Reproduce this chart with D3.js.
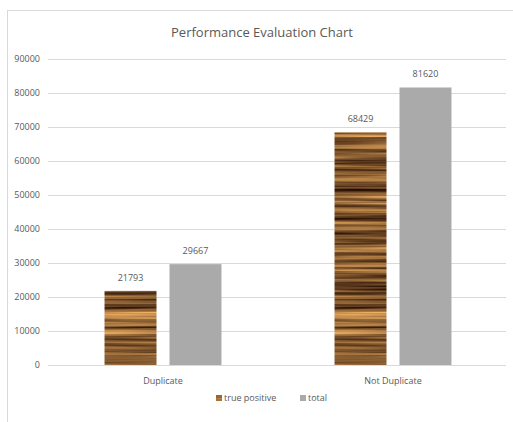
<!DOCTYPE html>
<html>
<head>
<meta charset="utf-8">
<script src="https://cdn.jsdelivr.net/npm/d3@7"></script>
<style>
  html, body { margin: 0; padding: 0; background: #fff; }
  svg { display: block; }
  text { font-family: "Open Sans", "Liberation Sans", sans-serif; fill: #595959; }
</style>
</head>
<body>
<svg id="chart" width="513" height="422"></svg>
<script>
// Chart data
const categories = ["Duplicate", "Not Duplicate"];
const seriesNames = ["true positive", "total"];
const truePositive = [21793, 68429];
const total = [29667, 81620];
const yTicks = [0, 10000, 20000, 30000, 40000, 50000, 60000, 70000, 80000, 90000];
const chartTitle = "Performance Evaluation Chart";

const svg = d3.select("#chart");
const margin = { left: 48, right: 5, top: 59, bottom: 57 };
const W = 513, H = 422;

// Wood-grain fill for the "true positive" series
const defs = svg.append("defs");
const wood = defs.append("filter").attr("id", "wood")
  .attr("x", 0).attr("y", 0).attr("width", 1).attr("height", 1)
  .attr("color-interpolation-filters", "sRGB");
wood.append("feTurbulence").attr("type", "fractalNoise")
  .attr("baseFrequency", "0.005 0.28").attr("numOctaves", 3).attr("seed", 11).attr("result", "noise");
wood.append("feColorMatrix").attr("in", "noise").attr("type", "matrix")
  .attr("values", [
    "1.05 0 0 0 0.02",
    "0.85 0 0 0 -0.05",
    "0.5 0 0 0 -0.05",
    "0 0 0 0 1"
  ].join(" ")).attr("result", "tint");
wood.append("feComposite").attr("in", "tint").attr("in2", "SourceGraphic").attr("operator", "in");

// Chart area border
svg.append("rect")
  .attr("x", 7.5).attr("y", 10.5).attr("width", 510).attr("height", 420)
  .attr("fill", "none").attr("stroke", "#d9d9d9");

const x0 = d3.scaleBand().domain(categories)
  .range([margin.left, W - margin.right]).paddingInner(0).paddingOuter(0);
const x1 = d3.scaleBand().domain(seriesNames)
  .range([0, x0.bandwidth()]).paddingInner(0.2).paddingOuter(0.87);
const y = d3.scaleLinear().domain([0, 90000]).range([H - margin.bottom, margin.top]);

// Gridlines and y labels
const yAxis = svg.append("g").attr("transform", `translate(${margin.left},0)`)
  .call(d3.axisLeft(y).tickValues(yTicks).tickSize(-(W - margin.left - margin.right - 2)).tickPadding(8).tickFormat(d3.format("d")));
yAxis.select(".domain").remove();
yAxis.selectAll(".tick line").attr("stroke", "#d9d9d9");
yAxis.selectAll(".tick text").attr("font-size", 9).style("fill", "#595959");

// Bars
const rows = categories.map((c, i) => ({ cat: c, values: [truePositive[i], total[i]] }));
const groups = svg.append("g").selectAll("g").data(rows).join("g")
  .attr("transform", d => `translate(${x0(d.cat)},0)`);
groups.selectAll("rect").data(d => d.values.map((v, j) => ({ key: seriesNames[j], v })))
  .join("rect")
  .attr("x", d => x1(d.key))
  .attr("width", x1.bandwidth())
  .attr("y", d => y(d.v))
  .attr("height", d => y(0) - y(d.v))
  .attr("fill", d => d.key === "total" ? "#aaaaaa" : "#8a5a2c")
  .attr("filter", d => d.key === "total" ? null : "url(#wood)");
groups.selectAll("text.val").data(d => d.values.map((v, j) => ({ key: seriesNames[j], v })))
  .join("text").attr("class", "val")
  .attr("x", d => x1(d.key) + x1.bandwidth() / 2)
  .attr("y", d => y(d.v) - 10)
  .attr("text-anchor", "middle").attr("font-size", 9)
  .text(d => d.v);

// Category labels
svg.append("g").selectAll("text").data(categories).join("text")
  .attr("x", d => x0(d) + x0.bandwidth() / 2)
  .attr("y", y(0) + 19)
  .attr("text-anchor", "middle").attr("font-size", 9)
  .text(d => d);

// Title
svg.append("text").attr("x", 262).attr("y", 37)
  .attr("text-anchor", "middle").attr("font-size", 13)
  .text(chartTitle);

// Legend
const legend = svg.append("g");
const legendX = [216, 300];
seriesNames.forEach((s, i) => {
  const g = legend.append("g").attr("transform", `translate(${legendX[i]},398)`);
  g.append("rect").attr("x", 0).attr("y", -3).attr("width", 6).attr("height", 6)
    .attr("fill", i === 0 ? "#8a5a2c" : "#aaaaaa")
    .attr("filter", i === 0 ? "url(#wood)" : null);
  g.append("text").attr("x", 8).attr("y", 3).attr("font-size", 9).text(s);
});
</script>
</body>
</html>
